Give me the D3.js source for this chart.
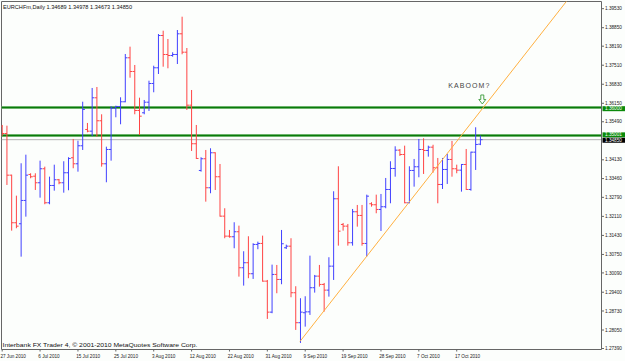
<!DOCTYPE html>
<html>
<head>
<meta charset="utf-8">
<script src="https://cdn.jsdelivr.net/npm/d3@7"></script>
<style>
  body { margin: 0; background: #fcfefc; }
  svg { display: block; font-family: "Liberation Sans", Arial, sans-serif; }
</style>
</head>
<body>
<svg id="chart"></svg>
<script>
// daily bars, Sunday to Friday (no Saturday bars on this feed)
const dates = d3.timeDay.range(new Date(2010, 5, 27), new Date(2010, 9, 23)).filter(d => d.getDay() !== 6);

const open = [
  1.35332, 1.35071, 1.33582, 1.31882, 1.31846, 1.32679, 1.33607, 1.33546, 1.33311, 1.33811,
  1.32596, 1.33214, 1.33418, 1.33311, 1.33668, 1.34204, 1.33989, 1.34632, 1.35214, 1.35154,
  1.36346, 1.35525, 1.33989, 1.34500, 1.35975, 1.36036, 1.36204, 1.37775, 1.37286, 1.35893,
  1.35811, 1.36189, 1.36857, 1.37418, 1.38571, 1.37893, 1.37857, 1.37893, 1.38632, 1.37975,
  1.36082, 1.34704, 1.33750, 1.34168, 1.33132, 1.34382, 1.33525, 1.32118, 1.31404, 1.31382,
  1.31561, 1.30275, 1.30454, 1.30061, 1.31107, 1.31143, 1.29796, 1.28689, 1.30036, 1.29857,
  1.30989, 1.31046, 1.29382, 1.28311, 1.28668, 1.28700, 1.29561, 1.29975, 1.29679, 1.29475,
  1.30332, 1.32739, 1.31821, 1.31761, 1.31168, 1.32275, 1.32143, 1.31143, 1.32561, 1.32525,
  1.32357, 1.32454, 1.33071, 1.33821, 1.34475, 1.34321, 1.32596, 1.33750, 1.33882, 1.34500,
  1.34464, 1.34582, 1.33846, 1.33250, 1.33786, 1.34143, 1.33811, 1.33761, 1.33964, 1.33071,
  1.34404, 1.34689
];
const high = [
  1.35357, 1.35332, 1.33582, 1.32832, 1.33989, 1.34296, 1.33632, 1.33632, 1.34082, 1.33868,
  1.33511, 1.33939, 1.33429, 1.34061, 1.34204, 1.34857, 1.34796, 1.36189, 1.35429, 1.36679,
  1.36714, 1.35739, 1.34582, 1.36025, 1.36046, 1.36346, 1.37893, 1.38154, 1.37500, 1.36332,
  1.36250, 1.36939, 1.37475, 1.38607, 1.38725, 1.38429, 1.37954, 1.38750, 1.39225, 1.38107,
  1.36607, 1.35357, 1.34204, 1.34464, 1.34525, 1.34382, 1.33964, 1.32382, 1.31607, 1.31882,
  1.31761, 1.30846, 1.31382, 1.31132, 1.31189, 1.31404, 1.29821, 1.30368, 1.30357, 1.31607,
  1.31082, 1.31311, 1.29596, 1.29168, 1.29239, 1.30689, 1.30000, 1.30357, 1.29714, 1.30632,
  1.32989, 1.33882, 1.31857, 1.31821, 1.32357, 1.32500, 1.32500, 1.32868, 1.32596, 1.32868,
  1.32893, 1.33464, 1.34061, 1.34596, 1.34500, 1.34618, 1.33882, 1.34143, 1.34857, 1.34882,
  1.34618, 1.34650, 1.34179, 1.34179, 1.34321, 1.34786, 1.33939, 1.33964, 1.34500, 1.34404,
  1.35275, 1.34978
];
const low = [
  1.35000, 1.33250, 1.31618, 1.31704, 1.30689, 1.32118, 1.33489, 1.33071, 1.32796, 1.32561,
  1.32561, 1.33046, 1.33275, 1.32975, 1.33061, 1.33846, 1.33725, 1.34500, 1.35132, 1.35000,
  1.34975, 1.33904, 1.33346, 1.34118, 1.35668, 1.35418, 1.36204, 1.37082, 1.35775, 1.35036,
  1.35775, 1.35893, 1.36561, 1.37214, 1.37475, 1.37418, 1.37832, 1.37571, 1.37918, 1.35929,
  1.34464, 1.34179, 1.33725, 1.32654, 1.32954, 1.33071, 1.32118, 1.31346, 1.31368, 1.30989,
  1.29975, 1.29654, 1.29918, 1.29893, 1.30954, 1.29796, 1.28464, 1.28668, 1.29382, 1.29704,
  1.30964, 1.29239, 1.28071, 1.27607, 1.28189, 1.28607, 1.29404, 1.29618, 1.28725, 1.29261,
  1.29857, 1.31082, 1.31618, 1.31082, 1.31082, 1.31761, 1.31082, 1.30689, 1.32475, 1.32239,
  1.31607, 1.32418, 1.32596, 1.33546, 1.34286, 1.32596, 1.32596, 1.33189, 1.33525, 1.33643,
  1.34261, 1.33689, 1.32596, 1.33107, 1.33286, 1.33546, 1.33668, 1.33011, 1.33071, 1.33046,
  1.33786, 1.34673
];
const close = [
  1.35071, 1.33582, 1.31882, 1.31761, 1.32679, 1.33582, 1.33525, 1.33311, 1.33811, 1.32596,
  1.33214, 1.33418, 1.33311, 1.33668, 1.34179, 1.33989, 1.34632, 1.35929, 1.35154, 1.36346,
  1.35525, 1.33989, 1.34500, 1.35975, 1.36036, 1.36204, 1.37775, 1.37286, 1.35893, 1.35689,
  1.36189, 1.36857, 1.37418, 1.38571, 1.37893, 1.37857, 1.37893, 1.38632, 1.37975, 1.36082,
  1.34704, 1.34179, 1.34168, 1.33132, 1.34382, 1.33525, 1.32118, 1.31404, 1.31382, 1.31561,
  1.30275, 1.30454, 1.30061, 1.31107, 1.31143, 1.29796, 1.28689, 1.30036, 1.29857, 1.31132,
  1.31046, 1.29382, 1.28311, 1.28689, 1.28700, 1.29561, 1.29975, 1.29679, 1.29475, 1.30332,
  1.32739, 1.31582, 1.31761, 1.31168, 1.32275, 1.32143, 1.31143, 1.32832, 1.32525, 1.32357,
  1.32454, 1.33071, 1.33821, 1.34475, 1.34321, 1.32596, 1.33750, 1.33882, 1.34500, 1.34464,
  1.34582, 1.33846, 1.33250, 1.33786, 1.34143, 1.33811, 1.33761, 1.33964, 1.33071, 1.34404,
  1.34679, 1.34850
];

// 1.34810 sits under the last-price box, so it is not listed
const priceTicks = [1.39530, 1.38850, 1.38190, 1.37510, 1.36830, 1.36150, 1.35490,
  1.34130, 1.33460, 1.32790, 1.32110, 1.31430, 1.30750, 1.30090, 1.29400, 1.28730, 1.28050, 1.27390];
const dateTicks = ["27 Jun 2010", "6 Jul 2010", "15 Jul 2010", "25 Jul 2010", "3 Aug 2010",
  "12 Aug 2010", "22 Aug 2010", "31 Aug 2010", "9 Sep 2010", "19 Sep 2010", "28 Sep 2010",
  "7 Oct 2010", "17 Oct 2010"];

const levels = [1.36000, 1.35001];   // horizontal lines
const lastPrice = 1.34850;
const trendStart = { i: 62.9, p: 1.27643 };  // bar index, price
const trendEnd = { i: 101.4, p: 1.35954 };

const W = 625, H = 361;
const frame = { left: 1.5, top: 1.5, right: 601.5, bottom: 349.5 };
const upColor = "#4040ff", downColor = "#ff4444";
const labelGap = 5.4; // min distance between labels on the price axis

const svg = d3.select("#chart").attr("width", W).attr("height", H);

const xScale = d3.scaleLinear().domain([0, 101]).range([2.2, 480.4]);
const yScale = d3.scaleLinear().domain([1.27390, 1.39786]).range([348.5, 1.5]);

svg.append("defs").append("clipPath").attr("id", "clip")
  .append("rect").attr("x", frame.left).attr("y", frame.top)
  .attr("width", frame.right - frame.left).attr("height", frame.bottom - frame.top);

// frame
svg.append("path")
  .attr("d", `M${frame.left},${frame.bottom}V${frame.top}H${frame.right}`)
  .attr("fill", "none").attr("stroke", "#666").attr("stroke-width", 1);

const plot = svg.append("g").attr("clip-path", "url(#clip)");

// last price line
plot.append("line")
  .attr("x1", frame.left).attr("x2", frame.right)
  .attr("y1", yScale(lastPrice)).attr("y2", yScale(lastPrice))
  .attr("stroke", "#b4b4b4").attr("stroke-width", 1);

// horizontal levels
levels.forEach(lv => {
  plot.append("line")
    .attr("x1", frame.left).attr("x2", frame.right)
    .attr("y1", yScale(lv)).attr("y2", yScale(lv))
    .attr("stroke", "#8cc88c").attr("stroke-width", 3);
  plot.append("line")
    .attr("x1", frame.left).attr("x2", frame.right)
    .attr("y1", yScale(lv)).attr("y2", yScale(lv))
    .attr("stroke", "#0a7a0a").attr("stroke-width", 1.4);
});

// bars
const bars = dates.map((d, i) => ({ i, o: open[i], h: high[i], l: low[i], c: close[i] }));
const bar = plot.selectAll("g.bar").data(bars).join("g")
  .attr("class", "bar")
  .attr("stroke", d => d.c >= d.o ? upColor : downColor)
  .attr("stroke-width", 1);

bar.append("line")
  .attr("x1", d => xScale(d.i)).attr("x2", d => xScale(d.i))
  .attr("y1", d => yScale(d.h) - 0.5).attr("y2", d => yScale(d.l) + 0.5);
bar.append("line")
  .attr("x1", d => xScale(d.i) - 2.2).attr("x2", d => xScale(d.i))
  .attr("y1", d => yScale(d.o)).attr("y2", d => yScale(d.o));
bar.append("line")
  .attr("x1", d => xScale(d.i)).attr("x2", d => xScale(d.i) + 2.2)
  .attr("y1", d => yScale(d.c)).attr("y2", d => yScale(d.c));

// trend line (ray to the right)
const slope = (yScale(trendEnd.p) - yScale(trendStart.p)) / (xScale(trendEnd.i) - xScale(trendStart.i));
const x0 = xScale(trendStart.i), y0 = yScale(trendStart.p);
plot.append("line")
  .attr("x1", x0).attr("y1", y0)
  .attr("x2", frame.right).attr("y2", y0 + slope * (frame.right - x0))
  .attr("stroke", "#ffb040").attr("stroke-width", 1);

// annotation where the trend line meets the upper level
const cy = yScale(levels[0]);
const cx = x0 + (cy - y0) / slope;
svg.append("path")
  .attr("d", `M${cx - 1},${cy - 3.5} l-3.5,-4.5 h2 v-4.5 h3 v4.5 h2 z`)
  .attr("fill", "#fcfefc").attr("stroke", "#3a9a3a").attr("stroke-width", 0.9);
svg.append("text")
  .attr("x", cx - 14).attr("y", cy - 19.5)
  .attr("text-anchor", "middle")
  .attr("fill", "#444").style("font-size", "7px").style("letter-spacing", "1.1px")
  .text("KABOOM?");

// price axis
svg.append("line")
  .attr("x1", frame.right).attr("x2", frame.right).attr("y1", frame.top).attr("y2", frame.bottom)
  .attr("stroke", "#666");
const pt = svg.append("g");
pt.selectAll("line").data(priceTicks).join("line")
  .attr("x1", frame.right).attr("x2", frame.right + 2.5)
  .attr("y1", d => yScale(d)).attr("y2", d => yScale(d))
  .attr("stroke", "#666");
pt.selectAll("text").data(priceTicks).join("text")
  .attr("x", frame.right + 3.5).attr("y", d => yScale(d) + 1.6)
  .attr("fill", "#222").style("font-size", "4.7px")
  .text(d => d.toFixed(5));

// level / price boxes on the axis, nudged apart like the terminal does
const boxes = levels.map(v => ({ v, fill: "#0a8a0a" })).concat([{ v: lastPrice, fill: "#000" }]);
boxes.forEach(b => { b.y = yScale(b.v); });
for (let k = 0; k < 4; k++) {
  boxes.forEach(b => {
    priceTicks.forEach(t => {
      const ty = yScale(t), dy = b.y - ty;
      if (Math.abs(dy) < labelGap) b.y = ty + (dy >= 0 ? labelGap : -labelGap);
    });
  });
  boxes.forEach(a => boxes.forEach(b => {
    if (a === b || a.y > b.y) return;
    const gap = b.y - a.y;
    if (gap < labelGap) { a.y -= (labelGap - gap) / 2; b.y += (labelGap - gap) / 2; }
  }));
}
boxes.forEach(b => {
  svg.append("rect")
    .attr("x", frame.right + 1).attr("y", b.y - 2.5)
    .attr("width", W - frame.right).attr("height", 5)
    .attr("fill", b.fill);
  svg.append("text")
    .attr("x", frame.right + 3.5).attr("y", b.y + 1.6)
    .attr("fill", "#fff").style("font-size", "4.7px")
    .text(b.v.toFixed(5));
});

// time axis
svg.append("line")
  .attr("x1", frame.left).attr("x2", frame.right).attr("y1", frame.bottom).attr("y2", frame.bottom)
  .attr("stroke", "#666");
const parseLabel = d3.timeParse("%d %b %Y");
const dt = dateTicks.map(s => ({ s, i: dates.findIndex(d => +d === +parseLabel(s)) }));
const tg = svg.append("g");
tg.selectAll("line").data(dt).join("line")
  .attr("x1", d => xScale(d.i)).attr("x2", d => xScale(d.i))
  .attr("y1", frame.bottom).attr("y2", frame.bottom + 2)
  .attr("stroke", "#666");
tg.selectAll("text").data(dt).join("text")
  .attr("transform", d => `translate(${xScale(d.i) - 1.8},${frame.bottom + 8.5}) scale(0.8,1)`)
  .attr("fill", "#222").style("font-size", "5.8px")
  .text(d => d.s);

// header and footer
svg.append("text")
  .attr("x", 3).attr("y", 8.7)
  .attr("fill", "#111").style("font-size", "6px")
  .attr("textLength", 129).attr("lengthAdjust", "spacingAndGlyphs")
  .text(`EURCHFm,Daily  ${open[101].toFixed(5)} ${high[101].toFixed(5)} ${low[101].toFixed(5)} ${close[101].toFixed(5)}`);
svg.append("text")
  .attr("x", 2.5).attr("y", 346.5)
  .attr("fill", "#111").style("font-size", "6px")
  .attr("textLength", 195).attr("lengthAdjust", "spacingAndGlyphs")
  .text("Interbank FX Trader 4, © 2001-2010 MetaQuotes Software Corp.");
</script>
</body>
</html>
